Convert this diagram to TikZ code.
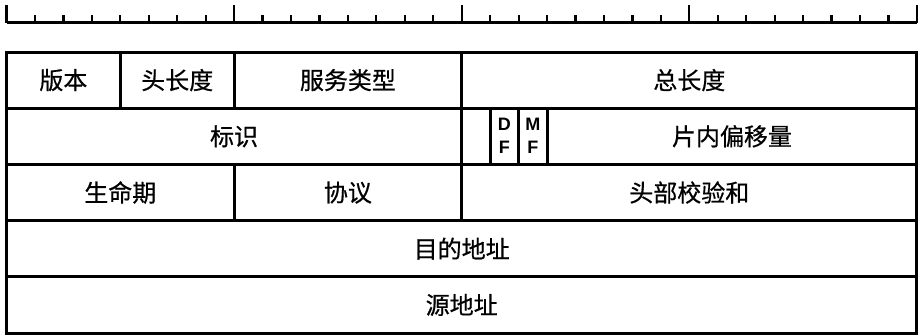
\documentclass[tikz,border=0pt]{standalone}
\usepackage{fontspec}
\setmainfont{Noto Sans CJK SC}[FakeBold=0.6]
\newfontfamily\flagfont{Liberation Sans}
\begin{document}
\begin{tikzpicture}[x=1pt,y=-1pt,
  fld/.style={draw, line width=3pt, minimum height=56.2pt, inner sep=0pt,
    font=\fontsize{24}{28}\selectfont},
  flag/.style={fld, align=center, font=\flagfont\bfseries\fontsize{18}{23}\selectfont},
  ruler/.style={line width=2.6pt, line cap=butt},
  tick/.style={line width=2.2pt}]
\useasboundingbox (0,0) rectangle (924,335);
% ruler
\draw[ruler] (6.5,22.5) -- (916.9,22.5);
\foreach \i in {0,...,32}{
  \pgfmathsetmacro{\xx}{6.5+28.45*\i}
  \pgfmathtruncatemacro{\mm}{mod(\i,8)}
  \ifnum\mm=0
    \draw[tick] (\xx,5) -- (\xx,22.5);
  \else
    \draw[tick] (\xx,15) -- (\xx,22.5);
  \fi
}
% row 1
\node[fld, minimum width=113.8pt] (ver) at (63.4,80.1) {版本};
\node[fld, minimum width=113.8pt] (ihl) at (177.2,80.1) {头长度};
\node[fld, minimum width=227.6pt] (tos) at (347.9,80.1) {服务类型};
\node[fld, minimum width=455.2pt] (len) at (689.3,80.1) {总长度};
% row 2
\node[fld, minimum width=455.2pt] (ident) at (234.1,136.3) {标识};
\node[fld, minimum width=28.45pt] (res) at (475.925,136.3) {};
\node[flag, minimum width=28.45pt] (df) at (504.375,136.3) {D\\F};
\node[flag, minimum width=28.45pt] (mf) at (532.825,136.3) {M\\F};
\node[fld, minimum width=369.85pt] (off) at (731.975,136.3) {片内偏移量};
% row 3
\node[fld, minimum width=227.6pt] (ttl) at (120.3,192.5) {生命期};
\node[fld, minimum width=227.6pt] (proto) at (347.9,192.5) {协议};
\node[fld, minimum width=455.2pt] (csum) at (689.3,192.5) {头部校验和};
% row 4, 5
\node[fld, minimum width=910.4pt] (dst) at (461.7,248.7) {目的地址};
\node[fld, minimum width=910.4pt] (src) at (461.7,304.9) {源地址};
\end{tikzpicture}
\end{document}
